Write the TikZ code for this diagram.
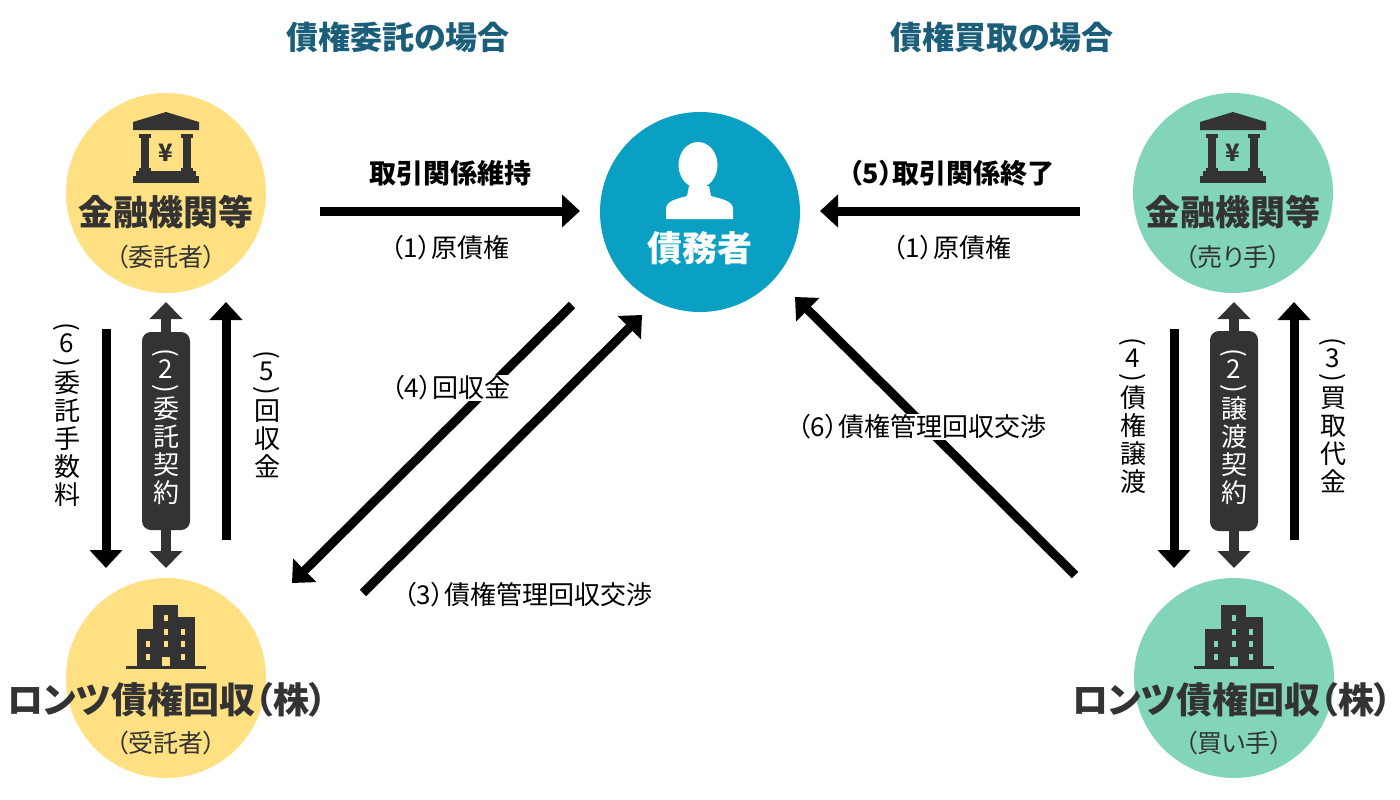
\documentclass[tikz,border=0pt]{standalone}
\usepackage{fontspec}
\setmainfont{Noto Sans CJK JP}[RawFeature=+palt]
\usepackage{graphicx}
\usetikzlibrary{arrows.meta}
\definecolor{yel}{HTML}{FFE082}
\definecolor{grn}{HTML}{82D4BB}
\definecolor{blu}{HTML}{0AA0C3}
\definecolor{ttlc}{HTML}{1B5E7A}
\definecolor{dk}{HTML}{333333}
\newcommand\vpar[1]{\rotatebox[origin=c]{-90}{#1}}
\newcommand\vtxt[2]{\vpar{(}\\[-10pt]#1\\[-10pt]\vpar{)}\\[-6pt]#2}
\newcommand\tightlines{\lineskiplimit=-100pt\relax\lineskip=0pt\relax}
\tikzset{
  ttl/.style={font=\fontsize{32}{34}\selectfont\bfseries, text=ttlc, inner sep=0pt},
  big/.style={font=\fontsize{35}{38}\selectfont\bfseries, text=dk, inner sep=0pt},
  bigr/.style={font=\fontsize{36}{38}\selectfont\bfseries, text=dk, inner sep=0pt},
  sub/.style={font=\fontsize{25}{28}\selectfont, text=dk, inner sep=0pt},
  lab/.style={font=\fontsize{26}{28}\selectfont, text=black, inner sep=1pt},
  labb/.style={font=\fontsize{27}{30}\selectfont\bfseries, text=black, inner sep=0pt},
  vlab/.style={font=\fontsize{26}{28}\selectfont\tightlines, align=center, inner sep=0pt, anchor=north, text=black},
  disk/.style={circle, minimum size=200pt, inner sep=0pt},
  arr/.style={line width=9pt, -{Triangle[width=32pt,length=18pt]}},
  darr/.style={line width=10pt, draw=dk, {Triangle[width=32pt,length=17pt]}-{Triangle[width=32pt,length=17pt]}},
  pics/bank/.style={code={
    \fill[dk] (0,-81) -- (33,-71) -- (33,-63) -- (-33,-63) -- (-33,-71) -- cycle;
    \fill[dk] (-25,-58) rectangle (-17,-21);
    \fill[dk] (17,-58) rectangle (25,-21);
    \fill[dk] (-27,-59) rectangle (-15,-55);
    \fill[dk] (15,-59) rectangle (27,-55);
    \fill[dk] (-27,-25) rectangle (-15,-21);
    \fill[dk] (15,-25) rectangle (27,-21);
    \fill[dk] (-30,-22) rectangle (30,-17);
    \fill[dk] (-33,-17) rectangle (33,-10);
  }},
  pics/bldg/.style={code={
    \fill[dk] (-40,-12) rectangle (40,-9);
    \fill[dk] (-13,-73) rectangle (12,-11);
    \fill[dk] (12,-61) rectangle (29,-11);
    \fill[dk] (-29,-49) rectangle (-13,-11);
    \foreach \wx/\wy in {0/-60,0/-46,0/-34,17/-46,17/-34,17/-21,-18/-34,-18/-21}
      \fill[#1] (\wx-2,\wy-3) rectangle (\wx+2,\wy+3);
    \fill[#1] (-4,-21) rectangle (4,-12);
  }},
  pics/person/.style={code={
    \fill[white] (-34,7) -- (-34,-3) .. controls (-34,-11) and (-24,-13) .. (-13,-16) -- (-11,-26) -- (9,-26) -- (11,-16) .. controls (22,-13) and (33,-11) .. (33,-3) -- (33,7) -- cycle;
    \fill[white] (-2,-47) ellipse [x radius=19.5pt, y radius=23pt];
  }},
}
\begin{document}
\begin{tikzpicture}[x=1pt,y=-1pt]
\useasboundingbox (0,0) rectangle (1400,800);
\fill[white] (0,0) rectangle (1400,800);

% titles
\node[ttl] (t1) at (398,37) {債権委託の場合};
\node[ttl] (t2) at (1002,37) {債権買取の場合};

% circles
\node[disk, fill=yel] (c1) at (166,193) {};
\node[disk, fill=blu] (c2) at (700,212) {};
\node[disk, fill=grn] (c3) at (1233,193) {};
\node[disk, fill=yel] (c4) at (166,678) {};
\node[disk, fill=grn] (c5) at (1234,678) {};

% icons
\pic at (c1.center) {bank};
\pic at (c3.center) {bank};
\node[font=\fontsize{24}{24}\selectfont\bfseries, text=dk, inner sep=0pt] (y1) at (166,153) {¥};
\node[font=\fontsize{24}{24}\selectfont\bfseries, text=dk, inner sep=0pt] (y3) at (1233,153) {¥};
\pic at (c4.center) {bldg=yel};
\pic at (c5.center) {bldg=grn};
\pic at (c2.center) {person};

% circle texts
\node[big] (c1a) at (166,212) {金融機関等};
\node[sub] (c1b) at (166,257) {（委託者）};
\node[big, text=white] (c2a) at (700,248) {債務者};
\node[big] (c3a) at (1233,212) {金融機関等};
\node[sub] (c3b) at (1233,257) {（売り手）};
\node[bigr] (c4a) at (167,700) {ロンツ債権回収（株）};
\node[sub] (c4b) at (166,743) {（受託者）};
\node[bigr] (c5a) at (1232,700) {ロンツ債権回収（株）};
\node[sub] (c5b) at (1234,743) {（買い手）};

% arrow end points
\coordinate (h1s) at (320,211);
\coordinate (h1e) at (580,211);
\coordinate (h2s) at (1080,211);
\coordinate (h2e) at (820,211);
\coordinate (g4s) at (572,305);
\coordinate (g4e) at (292,583);
\coordinate (g3s) at (363,593);
\coordinate (g3e) at (642,315);
\coordinate (g6s) at (1075,575);
\coordinate (g6e) at (795,297);
\coordinate (v6s) at (106,329);
\coordinate (v6e) at (106,568);
\coordinate (d2s) at (166,302);
\coordinate (d2e) at (166,568);
\coordinate (v5s) at (226,540);
\coordinate (v5e) at (226,302);
\coordinate (v4s) at (1174,329);
\coordinate (v4e) at (1174,568);
\coordinate (e2s) at (1234,302);
\coordinate (e2e) at (1234,568);
\coordinate (v3s) at (1294,540);
\coordinate (v3e) at (1294,302);

% horizontal arrows
\draw[arr] (h1s) -- (h1e);
\draw[arr] (h2s) -- (h2e);
\node[labb] (l1a) at (450,173) {取引関係維持};
\node[lab] (l1b) at (450,248) {（1）原債権};
\node[labb] (l2a) at (952,173) {（5）取引関係終了};
\node[lab] (l2b) at (952,248) {（1）原債権};

% diagonal arrows
\draw[arr] (g4s) -- (g4e);
\draw[arr] (g3s) -- (g3e);
\draw[arr] (g6s) -- (g6e);
\node[lab, fill=white] (l4) at (451,388) {（4）回収金};
\node[lab] (l3) at (528,595) {（3）債権管理回収交渉};
\node[lab, fill=white] (l6) at (922,427) {（6）債権管理回収交渉};

% vertical arrows left
\draw[arr] (v6s) -- (v6e);
\draw[darr] (d2s) -- (d2e);
\fill[dk, rounded corners=9pt] (142,332) rectangle (190,530);
\draw[arr] (v5s) -- (v5e);
\node[vlab] (lv6) at (67,322) {\vtxt{6}{委\\託\\手\\数\\料}};
\node[vlab, text=white] (lv2) at (166,348) {\vtxt{2}{委\\託\\契\\約}};
\node[vlab] (lv5) at (267,350) {\vtxt{5}{回\\収\\金}};

% vertical arrows right
\draw[arr] (v4s) -- (v4e);
\draw[darr] (e2s) -- (e2e);
\fill[dk, rounded corners=9pt] (1210,331) rectangle (1258,531);
\draw[arr] (v3s) -- (v3e);
\node[vlab] (lv4) at (1133,337) {\vtxt{4}{債\\権\\譲\\渡}};
\node[vlab, text=white] (lv2r) at (1234,348) {\vtxt{2}{譲\\渡\\契\\約}};
\node[vlab] (lv3) at (1333,337) {\vtxt{3}{買\\取\\代\\金}};
\end{tikzpicture}
\end{document}
